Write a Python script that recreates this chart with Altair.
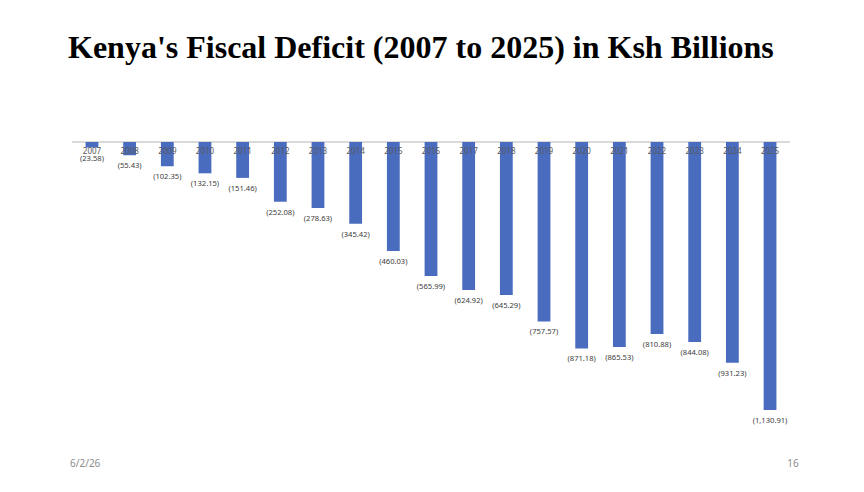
import altair as alt
import pandas as pd

years = [str(y) for y in range(2007, 2026)]
deficit = [-23.58, -55.43, -102.35, -132.15, -151.46, -252.08, -278.63, -345.42,
           -460.03, -565.99, -624.92, -645.29, -757.57, -871.18, -865.53, -810.88,
           -844.08, -931.23, -1130.91]
title_text = "Kenya's Fiscal Deficit (2007 to 2025) in Ksh Billions"
footer_left = "6/2/26"
footer_right = "16"

df = pd.DataFrame({"year": years, "value": deficit})
df["label"] = ["({:,.2f})".format(abs(v)) for v in deficit]
df["zero"] = 0.0

W, H = 718, 308
BLUE = "#4a6cbf"

xs = alt.Scale(domain=years, paddingInner=0.66, paddingOuter=0.36)
ys = alt.Scale(domain=[-1300, 0], nice=False)

base = alt.Chart(df)
X = alt.X("year:N", scale=xs, axis=None, sort=years)

bars = base.mark_bar(color=BLUE).encode(
    x=X,
    y=alt.Y("value:Q", scale=ys, axis=None),
    y2="zero:Q",
)

zero_rule = base.mark_rule(color="#d9d9d9", strokeWidth=1).encode(
    y=alt.Y("zero:Q", scale=ys, axis=None),
    x=alt.value(0),
    x2=alt.value(W),
)

year_labels = base.mark_text(
    fontSize=8, color="#595959", font="Noto Sans", baseline="middle", dy=10
).encode(
    x=X,
    y=alt.Y("zero:Q", scale=ys, axis=None),
    text="year:N",
)

value_labels = base.mark_text(
    fontSize=7.6, color="#404040", font="Noto Sans", baseline="middle", dy=11
).encode(
    x=X,
    y=alt.Y("value:Q", scale=ys, axis=None),
    text="label:N",
)

foot_l = alt.Chart(pd.DataFrame({"t": [footer_left]})).mark_text(
    fontSize=10, color="#8c8c8c", font="Noto Sans", align="left", baseline="middle"
).encode(x=alt.value(-2), y=alt.value(322), text="t:N")

foot_r = alt.Chart(pd.DataFrame({"t": [footer_right]})).mark_text(
    fontSize=10, color="#8c8c8c", font="Noto Sans", align="center", baseline="middle"
).encode(x=alt.value(721), y=alt.value(322), text="t:N")

chart = alt.layer(zero_rule, bars, year_labels, value_labels, foot_l, foot_r).properties(
    width=W,
    height=H,
    padding={"left": 64, "top": 134, "right": 66, "bottom": 34},
    autosize=alt.AutoSizeParams(type="none"),
    background="white",
    title=alt.TitleParams(
        text=title_text,
        anchor="start",
        font="Liberation Serif",
        fontSize=32,
        fontWeight="bold",
        color="#000000",
        dx=-2,
        offset=77,
    ),
).configure_view(strokeWidth=0)

chart.save("out.html", embed_options={"renderer": "svg", "actions": False})
